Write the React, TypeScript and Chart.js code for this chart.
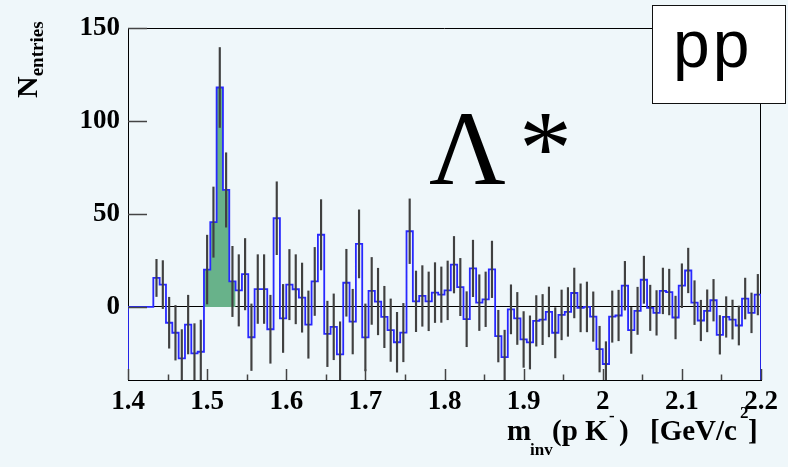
import React, { useEffect, useRef } from 'react';
import { Chart, registerables } from 'chart.js';

Chart.register(...registerables);

// ---- data ----
const BIN_START = 1.4;
const BIN_WIDTH = 0.008;

const counts = [
  0, 0, 0, 0, 15.6, 12, -8.5, -13.9, -27.7, -9.5,
  -25, -24.1, 20.1, 45.6, 118, 62.9, 13.7, 8.9, 17.6, -16.3,
  9.6, 9.6, -12, 47.7, -6.2, 12, 9.5, 5, -9.5, 13.7,
  38.8, -14.5, -10.7, -25.5, 13, -7.9, 33.9, -16.4, 8.6, 2.9,
  -5.4, -12.5, -19, -13.8, 40.7, 3, 5.9, 3, 7.7, 6.6,
  8.9, 22.7, 10.7, -6.6, 20.7, 2.3, 4.1, 20.2, -15.7, -27,
  -1.3, -6.2, -17.5, -19.1, -7.5, -6.8, -2.7, -13.9, -4.3, -2.7,
  7.5, -0.5, 0, -5.2, -22.7, -30.7, -5.2, -4.6, 11.4, -12.5,
  -2.1, 14.6, -0.5, -3.2, 8.6, 8, -5.7, 11.4, 19.6, 2.3,
  -7.3, -2.1, 3.6, -15, -5.4, -6.8, -10, 4.5, -3.2, 6.6,
];

const errors = [
  0, 0, 0, 0, 10, 12.9, 13.7, 14.7, 15.5, 15.8,
  16, 17, 18.5, 18.9, 21.5, 20, 18.9, 19.2, 19.2, 17.9,
  18.5, 18.5, 18.3, 19.6, 18.3, 18.9, 18.6, 18.6, 18.1, 18.3,
  18.9, 17.6, 17.7, 17.5, 18, 17.4, 18.3, 18, 18, 17.9,
  16.5, 16.8, 16.1, 15.7, 17.4, 16.3, 16.3, 15.8, 16.1, 14.9,
  15.8, 15.2, 15.4, 14.8, 15.2, 15, 14.7, 15.2, 13.9, 14.5,
  13.2, 14, 15, 14.3, 13.6, 13.5, 13.4, 13.5, 13.4, 13.1,
  13.4, 12.9, 13.4, 13.3, 12.3, 12, 13.8, 13.6, 13.1, 12.5,
  12.7, 12.7, 12.2, 12, 12.3, 12.3, 11.5, 11.8, 12, 11.8,
  10.9, 11.3, 11.2, 10.4, 10.9, 10.5, 10.5, 11, 10.7, 10.9,
];

const signalBins = [12, 13, 14, 15, 16];

const xTicks = [1.4, 1.5, 1.6, 1.7, 1.8, 1.9, 2.0, 2.1, 2.2];
const xTickLabels = ['1.4', '1.5', '1.6', '1.7', '1.8', '1.9', '2', '2.1', '2.2'];
const xMinorTicks = [1.45, 1.55, 1.65, 1.75, 1.85, 1.95, 2.05, 2.15];
const yTicks = [0, 50, 100, 150];

const X_MIN = 1.4;
const X_MAX = 2.2;
const Y_MIN = -39.3;
const Y_MAX = 150;

// ---- styles ----
const BG = '#eff7fa';
const SERIF = "'Liberation Serif', 'Times New Roman', serif";
const SANS = "'Liberation Sans', Arial, sans-serif";
const BLUE = 'rgb(40,40,255)';
const GREEN = 'rgb(104,178,138)';
const ERR = '#404040';

const edge = (i: number) => BIN_START + BIN_WIDTH * i;
const center = (i: number) => BIN_START + BIN_WIDTH * (i + 0.5);

const framePlugin = {
  id: 'rootFrame',
  beforeDatasetsDraw(chart: any) {
    const { ctx, chartArea: a } = chart;
    ctx.save();
    ctx.strokeStyle = '#000';
    ctx.lineWidth = 1;
    ctx.beginPath();
    ctx.moveTo(a.left, a.top + 0.5);
    ctx.lineTo(a.right, a.top + 0.5);
    ctx.moveTo(a.right - 0.5, a.top);
    ctx.lineTo(a.right - 0.5, a.bottom);
    ctx.stroke();
    ctx.restore();
  },
  afterDatasetsDraw(chart: any) {
    const { ctx, chartArea: a, scales } = chart;
    const xs = scales.x;
    const ys = scales.y;
    ctx.save();
    ctx.strokeStyle = '#444';
    ctx.lineWidth = 1.5;
    ctx.beginPath();
    yTicks.forEach((v) => {
      const py = Math.round(ys.getPixelForValue(v)) + 0.5;
      ctx.moveTo(a.left, py);
      ctx.lineTo(a.left + 19, py);
    });
    xTicks.forEach((v) => {
      const px = Math.round(xs.getPixelForValue(v)) + 0.5;
      ctx.moveTo(px, a.bottom);
      ctx.lineTo(px, a.bottom - 11);
    });
    xMinorTicks.forEach((v) => {
      const px = Math.round(xs.getPixelForValue(v)) + 0.5;
      ctx.moveTo(px, a.bottom);
      ctx.lineTo(px, a.bottom - 5.5);
    });
    ctx.stroke();
    ctx.restore();
  },
};

function Txt(props: {
  x: number;
  base: number;
  size: number;
  bold?: boolean;
  sans?: boolean;
  spacing?: number;
  children: React.ReactNode;
}) {
  const k = props.sans ? 0.8465 : 0.8375;
  return (
    <span
      style={{
        position: 'absolute',
        left: props.x,
        top: props.base - k * props.size,
        fontSize: props.size,
        lineHeight: `${props.size}px`,
        fontFamily: props.sans ? SANS : SERIF,
        fontWeight: props.bold ? 'bold' : 'normal',
        letterSpacing: props.spacing ? `${props.spacing}px` : undefined,
        whiteSpace: 'pre',
        color: '#000',
      }}
    >
      {props.children}
    </span>
  );
}

export default function App() {
  const ref = useRef<HTMLCanvasElement | null>(null);

  useEffect(() => {
    if (!ref.current) return;

    const histPoints: { x: number; y: number }[] = [{ x: X_MIN, y: Y_MIN }];
    counts.forEach((c, i) => histPoints.push({ x: edge(i), y: c }));
    histPoints.push({ x: edge(counts.length), y: counts[counts.length - 1] });
    histPoints.push({ x: edge(counts.length), y: Y_MIN });

    const sigPoints: { x: number; y: number }[] = signalBins.map((i) => ({ x: edge(i), y: counts[i] }));
    const lastSig = signalBins[signalBins.length - 1];
    sigPoints.push({ x: edge(lastSig + 1), y: counts[lastSig] });

    const errBars = counts
      .map((c, i) => ({ x: center(i), y: [c - errors[i], c + errors[i]], e: errors[i] }))
      .filter((d) => d.e > 0)
      .map((d) => ({ x: d.x, y: d.y }));

    const chart = new Chart(ref.current, {
      type: 'line',
      data: {
        datasets: [
          {
            type: 'bar',
            data: errBars as any,
            backgroundColor: ERR,
            borderWidth: 0,
            barThickness: 1.5,
            grouped: false,
            order: 0,
          } as any,
          {
            type: 'line',
            data: histPoints as any,
            borderColor: BLUE,
            borderWidth: 1.8,
            stepped: 'before',
            pointRadius: 0,
            fill: false,
            order: 1,
          } as any,
          {
            type: 'line',
            data: sigPoints as any,
            borderColor: 'rgba(0,0,0,0)',
            borderWidth: 0,
            backgroundColor: GREEN,
            stepped: 'before',
            pointRadius: 0,
            fill: 'origin',
            order: 2,
          } as any,
        ],
      },
      options: {
        animation: false,
        responsive: false,
        devicePixelRatio: 1,
        events: [],
        layout: { padding: { top: 28, right: 27, left: 0, bottom: 0 } },
        plugins: {
          legend: { display: false },
          tooltip: { enabled: false },
          title: { display: false },
        },
        scales: {
          x: {
            type: 'linear',
            min: X_MIN,
            max: X_MAX,
            offset: false,
            afterBuildTicks: (s: any) => {
              s.ticks = xTicks.map((v) => ({ value: v }));
            },
            afterFit: (s: any) => {
              s.height = 87;
            },
            ticks: {
              autoSkip: false,
              maxRotation: 0,
              padding: 6,
              color: '#000',
              font: { family: SERIF, weight: 'bold', size: 27 },
              callback: (_v: any, i: number) => xTickLabels[i],
            },
            grid: { display: false, drawTicks: false, offset: false },
            border: { display: true, color: '#000', width: 1 },
          },
          y: {
            type: 'linear',
            min: Y_MIN,
            max: Y_MAX,
            afterBuildTicks: (s: any) => {
              s.ticks = yTicks.map((v) => ({ value: v }));
            },
            afterFit: (s: any) => {
              s.width = 128;
            },
            ticks: {
              padding: 8,
              color: '#000',
              font: { family: SERIF, weight: 'bold', size: 27 },
              callback: (v: any) => String(v),
            },
            grid: {
              drawTicks: false,
              lineWidth: 1,
              color: (c: any) => (c.tick && c.tick.value === 0 ? '#000' : 'rgba(0,0,0,0)'),
            },
            border: { display: true, color: '#000', width: 1 },
          },
        },
      } as any,
      plugins: [framePlugin],
    });

    return () => chart.destroy();
  }, []);

  return (
    <div
      style={{
        position: 'absolute',
        left: 0,
        top: 0,
        width: 788,
        height: 467,
        background: BG,
        overflow: 'hidden',
      }}
    >
      <canvas ref={ref} width={788} height={467} style={{ display: 'block', width: 788, height: 467 }} />

      {/* y-axis title */}
      <div
        style={{
          position: 'absolute',
          left: 12,
          top: 98,
          transformOrigin: '0 0',
          transform: 'rotate(-90deg)',
          whiteSpace: 'nowrap',
          fontFamily: SERIF,
          fontWeight: 'bold',
          fontSize: 30,
          lineHeight: '30px',
          color: '#000',
        }}
      >
        N<span style={{ fontSize: 19, position: 'relative', top: 6 }}>entries</span>
      </div>

      {/* x-axis title */}
      <Txt x={507} base={440} size={29} bold>m</Txt>
      <Txt x={530} base={455} size={17} bold>inv</Txt>
      <Txt x={552} base={440} size={29} bold>(p K</Txt>
      <Txt x={609} base={421} size={17} bold>-</Txt>
      <Txt x={619} base={440} size={29} bold>)</Txt>
      <Txt x={650} base={440} size={29} bold>[GeV/c</Txt>
      <Txt x={740} base={418} size={17} bold>2</Txt>
      <Txt x={748} base={440} size={29} bold>]</Txt>

      {/* Lambda* label */}
      <Txt x={429} base={185} size={106}>Λ</Txt>
      <Txt x={519} base={185} size={106}>*</Txt>

      {/* pp box */}
      <div
        style={{
          position: 'absolute',
          left: 652,
          top: 5,
          width: 134,
          height: 99,
          boxSizing: 'border-box',
          border: '1.5px solid #111',
          background: '#fff',
        }}
      />
      <Txt x={673} base={67} size={66} sans spacing={3}>pp</Txt>
    </div>
  );
}
